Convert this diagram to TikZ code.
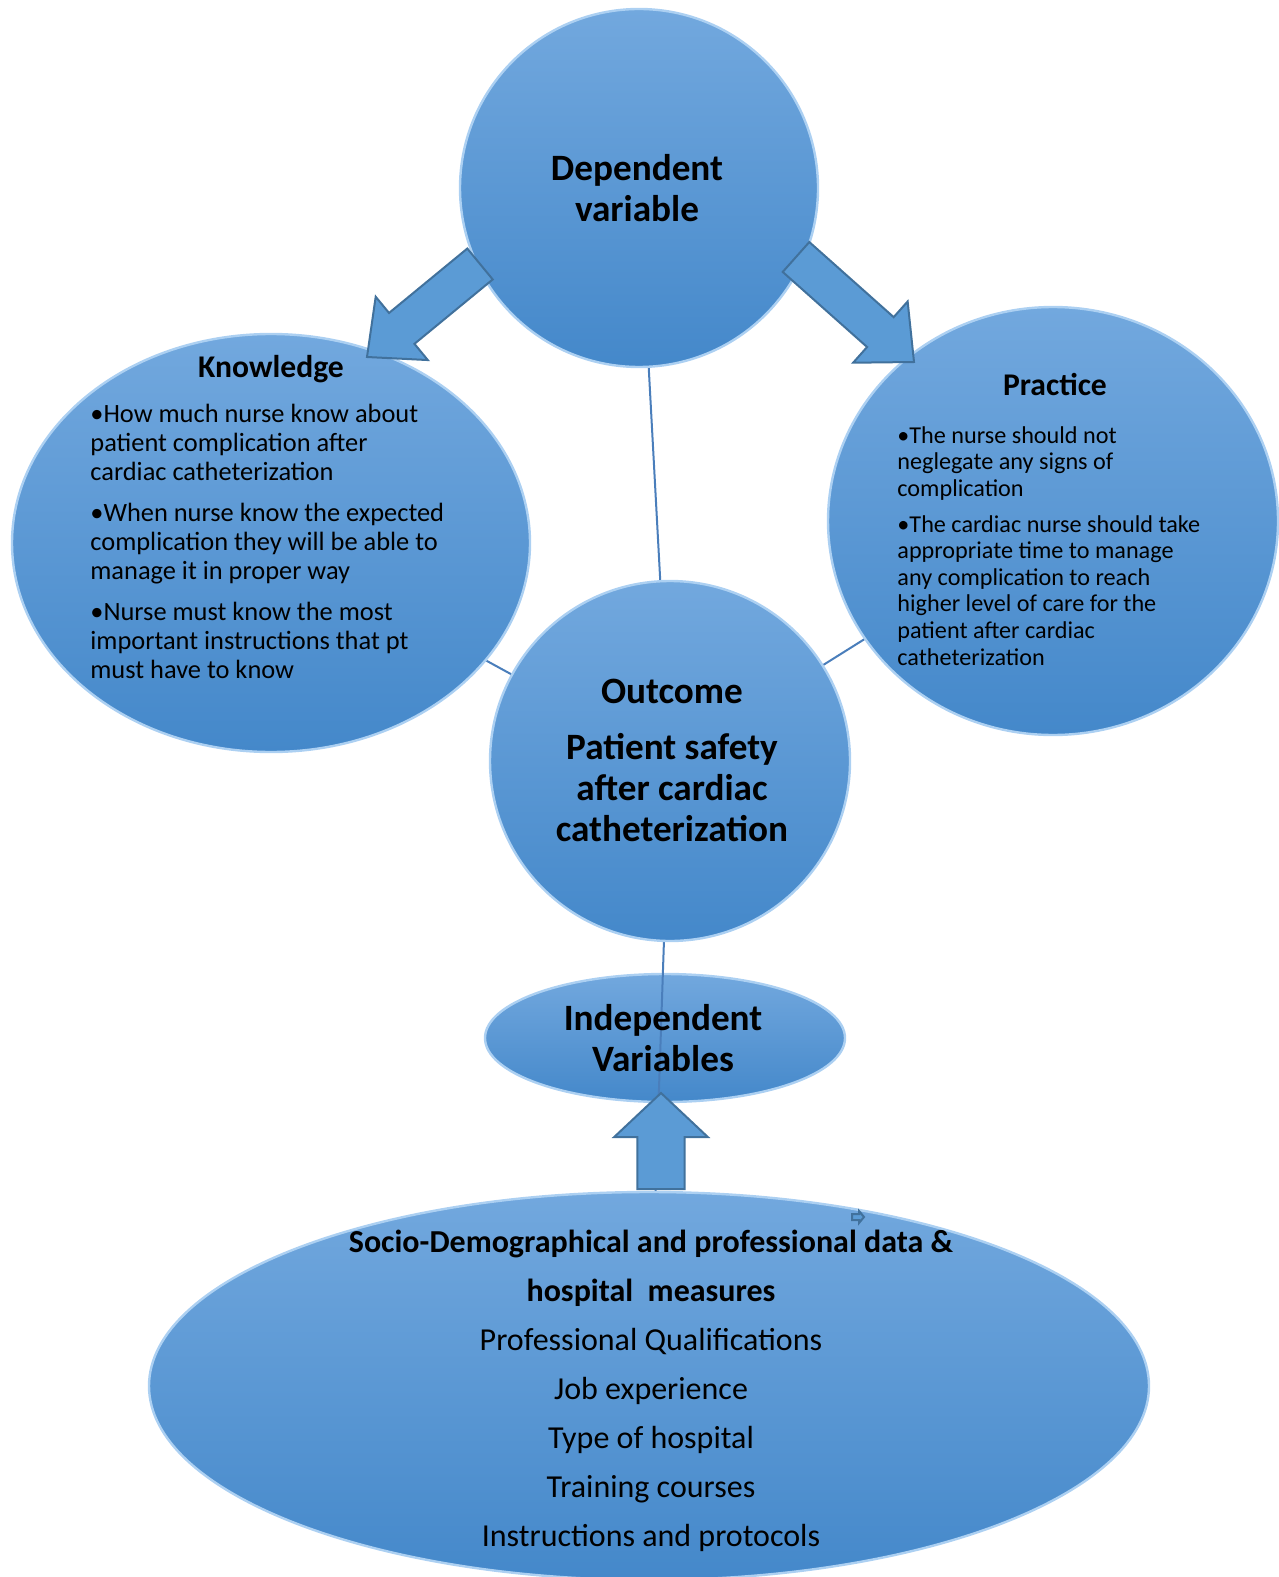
\documentclass[tikz,border=0pt]{standalone}
\usepackage{fontspec}
\setmainfont{Carlito}
\usetikzlibrary{shapes.geometric,calc,backgrounds}

\definecolor{bubtop}{RGB}{114,168,222}
\definecolor{bubbot}{RGB}{68,136,202}
\definecolor{bubrim}{RGB}{172,208,242}
\definecolor{arrfill}{RGB}{91,155,213}
\definecolor{arredge}{RGB}{65,113,156}
\definecolor{linkcol}{RGB}{74,126,187}

\pgfdeclarelayer{back}
\pgfdeclarelayer{links}
\pgfsetlayers{back,links,main}

\tikzset{
  bubble/.style={ellipse, draw=bubrim, line width=1.2pt, top color=bubtop, bottom color=bubbot, inner sep=0pt},
  fatarrow/.style={fill=arrfill, draw=arredge, line width=1pt, line join=miter},
  link/.style={draw=linkcol, line width=1pt},
  bigtitle/.style={font=\bfseries\fontsize{18.6}{20.5}\selectfont, align=center, inner sep=0pt},
  midtitle/.style={font=\bfseries\fontsize{15.8}{18}\selectfont, inner sep=0pt},
}

% block arrow: tail, tip, shaft half width, head half width, head length
\newcommand{\blockarrow}[5]{%
  \coordinate (neck) at ($(#2)!#5!(#1)$);
  \filldraw[fatarrow] ($(#1)!#3!90:(#2)$) -- ($(neck)!#3!90:(#2)$) -- ($(neck)!#4!90:(#2)$) -- (#2)
    -- ($(neck)!#4!-90:(#2)$) -- ($(neck)!#3!-90:(#2)$) -- ($(#1)!#3!-90:(#2)$) -- cycle;}

\begin{document}
\begin{tikzpicture}[x=0.5pt,y=-0.5pt]
\useasboundingbox (0,0) rectangle (1278,1577);

% bubbles
\node[bubble, minimum width=179pt, minimum height=179pt] (dep) at (639,188) {};
\node[bubble, minimum width=259pt, minimum height=209pt] (know) at (271,543) {};
\node[bubble, minimum width=225pt, minimum height=214pt] (prac) at (1053,521) {};
\node[bubble, minimum width=180pt, minimum height=180pt] (out) at (670,761) {};
\begin{pgfonlayer}{back}
\node[bubble, minimum width=180pt, minimum height=64pt] (indep) at (665,1038) {};
\end{pgfonlayer}
\node[bubble, minimum width=500pt, minimum height=194pt] (socio) at (649,1386) {};

% connectors
\begin{pgfonlayer}{links}
\draw[link] (dep.center) -- (out.center);
\draw[link] (know.center) -- (out.center);
\draw[link] (prac.center) -- (out.center);
\draw[link] (out.center) -- (socio.center);
\end{pgfonlayer}

% fat arrows
\coordinate (ltail) at (480,264);
\coordinate (ltip) at (367,357);
\coordinate (rtail) at (796,257);
\coordinate (rtip) at (914,362);
\coordinate (utail) at (661,1189);
\coordinate (utip) at (661,1093);
\coordinate (stail) at (852,1217);
\coordinate (stip) at (864,1217);
\blockarrow{ltail}{ltip}{10pt}{20.5pt}{22.5pt}
\blockarrow{rtail}{rtip}{10pt}{20.5pt}{22.5pt}
\blockarrow{utail}{utip}{11.8pt}{23.4pt}{22pt}
\blockarrow{stail}{stip}{1.5pt}{3pt}{2.5pt}

% texts
\node[bigtitle] (deptext) at (637,188) {Dependent\\variable};
\node[midtitle] (knowtitle) at (271,369) {Knowledge};
\node[midtitle] (practitle) at (1055,385) {Practice};
\node[anchor=north west, inner sep=0pt, align=left, font=\fontsize{13.2}{14.5}\selectfont] (knowlist) at (90,404)
  {\textbullet How much nurse know about\\patient complication after\\cardiac catheterization\\[6pt]
   \textbullet When nurse know the expected\\complication they will be able to\\manage it in proper way\\[6pt]
   \textbullet Nurse must know the most\\important instructions that pt\\must have to know};
\node[anchor=north west, inner sep=0pt, align=left, font=\fontsize{12.1}{13.3}\selectfont] (praclist) at (897,426)
  {{\large\textbullet}The nurse should not\\neglegate any signs of\\complication\\[4.5pt]
   \textbullet The cardiac nurse should take\\appropriate time to manage\\any complication to reach\\higher level of care for the\\patient after cardiac\\catheterization};
\node[bigtitle] (outtext) at (672,760) {Outcome\\[7.5pt]Patient safety\\after cardiac\\catheterization};
\node[bigtitle] (indtext) at (663,1038) {Independent\\Variables};
\node[align=center, inner sep=0pt, font=\fontsize{16}{24.5}\selectfont] (sociotext) at (651,1391)
  {\textbf{Socio-Demographical and professional data \&}\\\textbf{hospital\ \ measures}\\Professional Qualifications\\Job experience\\Type of hospital\\Training courses\\Instructions and protocols};

\end{tikzpicture}
\end{document}
